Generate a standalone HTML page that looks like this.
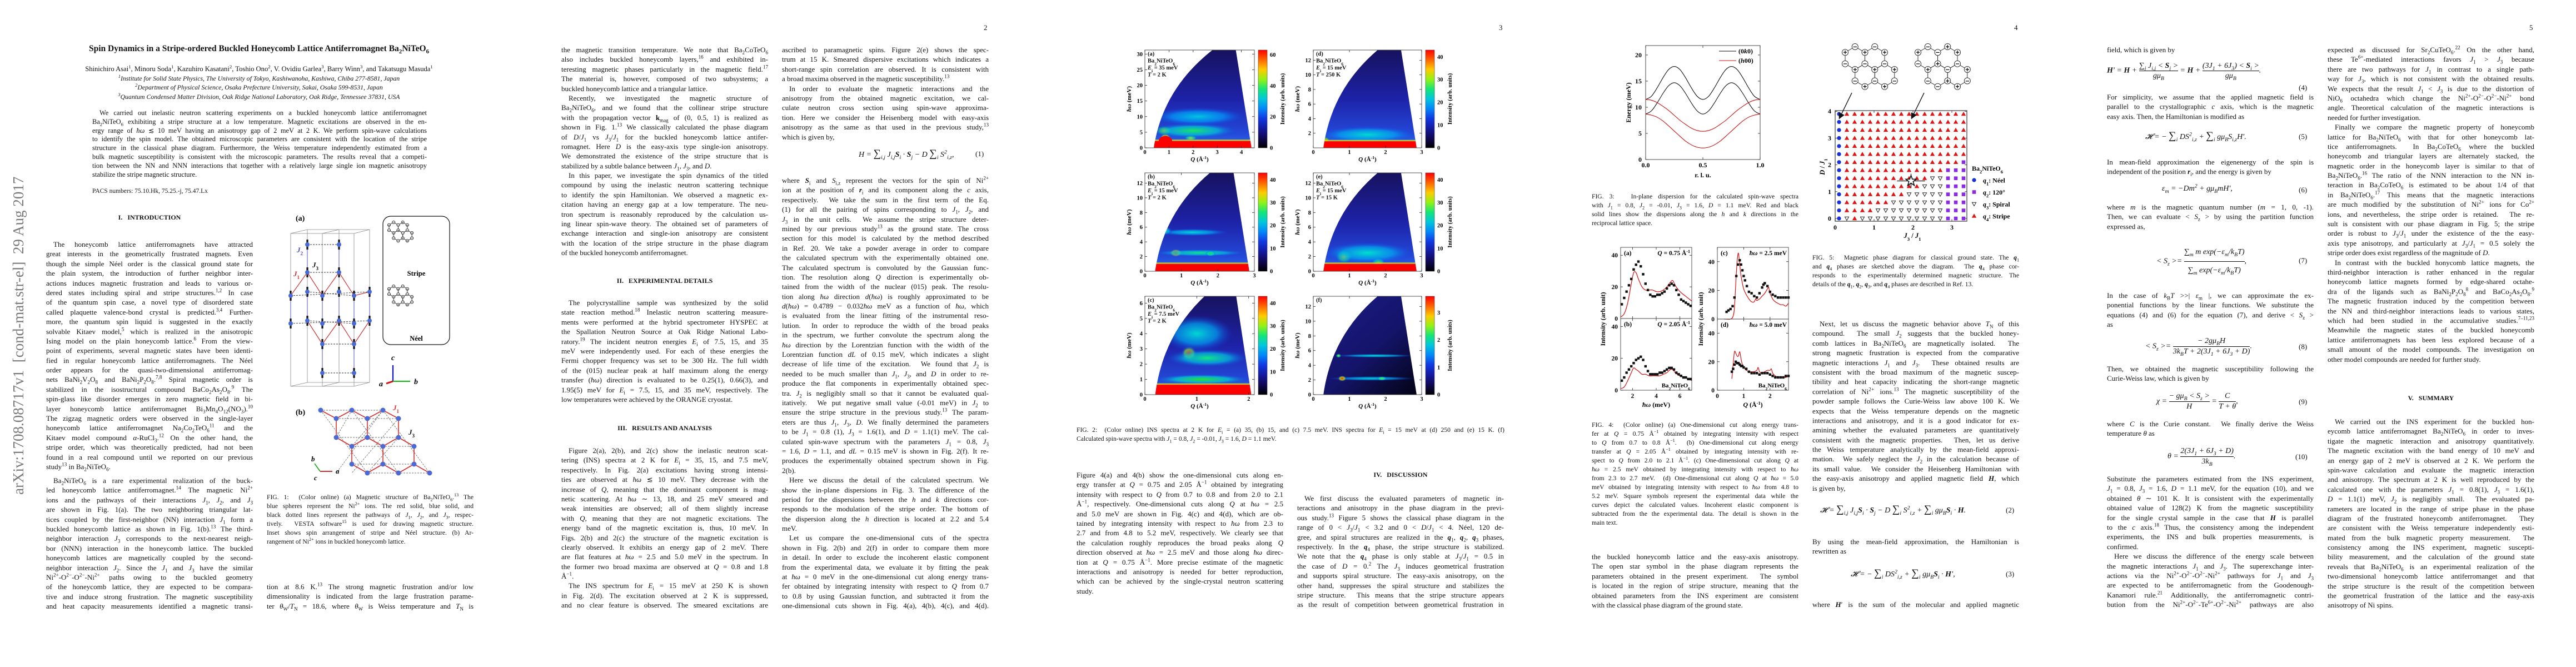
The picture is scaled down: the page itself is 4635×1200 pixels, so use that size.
<!DOCTYPE html>
<html><head><meta charset="utf-8">
<style>
html,body{margin:0;padding:0;background:#fff;}
body{width:4635px;height:1200px;position:relative;overflow:hidden;font-family:"Liberation Serif",serif;color:#111;}
.col{position:absolute;width:372px;font-size:13px;line-height:17.4px;}
.col div{white-space:nowrap;text-align:justify;text-align-last:justify;height:17.4px;overflow:visible;}
.col div.e{text-align-last:left;}
.col div.i{text-indent:13px;}
.cap{position:absolute;width:372px;font-size:11.6px;line-height:16px;}
.cap div{white-space:nowrap;text-align:justify;text-align-last:justify;height:16px;}
.cap div.e{text-align-last:left;}
sub,sup{font-size:70%;line-height:0;}
.h{position:absolute;width:372px;text-align:center;font-weight:bold;font-size:12px;}
.eq{position:absolute;font-size:14px;font-style:italic;white-space:nowrap;}
.eqn{position:absolute;font-size:13px;}
.pn{position:absolute;font-size:13px;}
#figs{position:absolute;left:0;top:0;}
</style></head>
<body>

<!-- ================= PAGE 1 ================= -->
<div style="position:absolute;left:18px;top:890px;transform-origin:0 0;transform:rotate(-90deg);font-size:27px;color:#7a7a7a;white-space:nowrap;width:650px;">arXiv:1708.08717v1&nbsp; [cond-mat.str-el]&nbsp; 29 Aug 2017</div>
<div style="position:absolute;left:60px;width:812px;top:78px;text-align:center;font-weight:bold;font-size:15.5px;line-height:20px;white-space:nowrap;">Spin Dynamics in a Stripe-ordered Buckled Honeycomb Lattice Antiferromagnet Ba<sub>2</sub>NiTeO<sub>6</sub></div>
<div style="position:absolute;left:60px;width:812px;top:116px;text-align:center;font-size:12.6px;line-height:17px;white-space:nowrap;">Shinichiro Asai<sup>1</sup>, Minoru Soda<sup>1</sup>, Kazuhiro Kasatani<sup>2</sup>, Toshio Ono<sup>2</sup>, V. Ovidiu Garlea<sup>3</sup>, Barry Winn<sup>3</sup>, and Takatsugu Masuda<sup>1</sup></div>
<div style="position:absolute;left:60px;width:812px;top:133px;text-align:center;font-size:11.8px;line-height:16.4px;font-style:italic;white-space:nowrap;">
<div><sup>1</sup>Institute for Solid State Physics, The University of Tokyo, Kashiwanoha, Kashiwa, Chiba 277-8581, Japan</div>
<div><sup>2</sup>Department of Physical Science, Osaka Prefecture University, Sakai, Osaka 599-8531, Japan</div>
<div><sup>3</sup>Quantum Condensed Matter Division, Oak Ridge National Laboratory, Oak Ridge, Tennessee 37831, USA</div></div>
<div class="col" style="left:166px;top:196px;width:602px;line-height:15.8px;font-size:12.4px;">
<div class="i" style="height:15.8px">We carried out inelastic neutron scattering experiments on a buckled honeycomb lattice antiferromagnet</div>
<div style="height:15.8px">Ba<sub>2</sub>NiTeO<sub>6</sub> exhibiting a stripe structure at a low temperature. Magnetic excitations are observed in the en-</div>
<div style="height:15.8px">ergy range of <i>ħω</i> ≲ 10 meV having an anisotropy gap of 2 meV at 2 K. We perform spin-wave calculations</div>
<div style="height:15.8px">to identify the spin model. The obtained microscopic parameters are consistent with the location of the stripe</div>
<div style="height:15.8px">structure in the classical phase diagram. Furthermore, the Weiss temperature independently estimated from a</div>
<div style="height:15.8px">bulk magnetic susceptibility is consistent with the microscopic parameters. The results reveal that a competi-</div>
<div style="height:15.8px">tion between the NN and NNN interactions that together with a relatively large single ion magnetic anisotropy</div>
<div class="e" style="height:15.8px">stabilize the stripe magnetic structure.</div></div>
<div style="position:absolute;left:166px;top:338px;font-size:11.5px;">PACS numbers: 75.10.Hk, 75.25.-j, 75.47.Lx</div>
<div class="h" style="left:83px;top:384px;">I.&nbsp;&nbsp; INTRODUCTION</div>
<div class="col" style="left:83px;top:431px;">
<div class="i">The honeycomb lattice antiferromagnets have attracted</div>
<div>great interests in the geometrically frustrated magnets. Even</div>
<div>though the simple Néel order is the classical ground state for</div>
<div>the plain system, the introduction of further neighbor inter-</div>
<div>actions induces magnetic frustration and leads to various or-</div>
<div>dered states including spiral and stripe structures.<sup>1,2</sup> In case</div>
<div>of the quantum spin case, a novel type of disordered state</div>
<div>called plaquette valence-bond crystal is predicted.<sup>3,4</sup> Further-</div>
<div>more, the quantum spin liquid is suggested in the exactly</div>
<div>solvable Kitaev model,<sup>5</sup> which is realized in the anisotropic</div>
<div>Ising model on the plain honeycomb lattice.<sup>6</sup> From the view-</div>
<div>point of experiments, several magnetic states have been identi-</div>
<div>fied in regular honeycomb lattice antiferromagnets. The Néel</div>
<div>order appears for the quasi-two-dimensional antiferromag-</div>
<div>nets BaNi<sub>2</sub>V<sub>2</sub>O<sub>8</sub> and BaNi<sub>2</sub>P<sub>2</sub>O<sub>8</sub>.<sup>7,8</sup> Spiral magnetic order is</div>
<div>stabilized in the isostructural compound BaCo<sub>2</sub>As<sub>2</sub>O<sub>8</sub>.<sup>9</sup> The</div>
<div>spin-glass like disorder emerges in zero magnetic field in bi-</div>
<div>layer honeycomb lattice antiferromagnet Bi<sub>3</sub>Mn<sub>4</sub>O<sub>12</sub>(NO<sub>3</sub>).<sup>10</sup></div>
<div>The zigzag magnetic orders were observed in the single-layer</div>
<div>honeycomb lattice antiferromagnet Na<sub>2</sub>Co<sub>2</sub>TeO<sub>6</sub><sup>11</sup> and the</div>
<div>Kitaev model compound <i>α</i>-RuCl<sub>3</sub>.<sup>12</sup> On the other hand, the</div>
<div>stripe order, which was theoretically predicted, had not been</div>
<div>found in a real compound until we reported on our previous</div>
<div class="e">study<sup>13</sup> in Ba<sub>2</sub>NiTeO<sub>6</sub>.</div></div>
<div class="col" style="left:83px;top:856px;">
<div class="i">Ba<sub>2</sub>NiTeO<sub>6</sub> is a rare experimental realization of the buck-</div>
<div>led honeycomb lattice antiferromagnet.<sup>14</sup> The magnetic Ni<sup>2+</sup></div>
<div>ions and the pathways of their interactions <i>J</i><sub>1</sub>, <i>J</i><sub>2</sub>, and <i>J</i><sub>3</sub></div>
<div>are shown in Fig. 1(a). The two neighboring triangular lat-</div>
<div>tices coupled by the first-neighbor (NN) interaction <i>J</i><sub>1</sub> form a</div>
<div>buckled honeycomb lattice as shown in Fig. 1(b).<sup>13</sup> The third-</div>
<div>neighbor interaction <i>J</i><sub>3</sub> corresponds to the next-nearest neigh-</div>
<div>bor (NNN) interaction in the honeycomb lattice. The buckled</div>
<div>honeycomb lattices are magnetically coupled by the second-</div>
<div>neighbor interaction <i>J</i><sub>2</sub>. Since the <i>J</i><sub>1</sub> and <i>J</i><sub>3</sub> have the similar</div>
<div>Ni<sup>2+</sup>-O<sup>2−</sup>-O<sup>2−</sup>-Ni<sup>2+</sup> paths owing to the buckled geometry</div>
<div>of the honeycomb lattice, they are expected to be compara-</div>
<div>tive and induce strong frustration. The magnetic susceptibility</div>
<div>and heat capacity measurements identified a magnetic transi-</div></div>
<div class="cap" style="left:480px;top:887px;">
<div>FIG. 1: &nbsp;(Color online) (a) Magnetic structure of Ba<sub>2</sub>NiTeO<sub>6</sub>.<sup>13</sup> The</div>
<div>blue spheres represent the Ni<sup>2+</sup> ions. The red solid, blue solid, and</div>
<div>black dotted lines represent the pathways of <i>J</i><sub>1</sub>, <i>J</i><sub>2</sub>, and <i>J</i><sub>3</sub>, respec-</div>
<div>tively. &nbsp;VESTA software<sup>15</sup> is used for drawing magnetic structure.</div>
<div>Inset shows spin arrangement of stripe and Néel structure. (b) Ar-</div>
<div class="e">rangement of Ni<sup>2+</sup> ions in buckled honeycomb lattice.</div></div>
<div class="col" style="left:480px;top:1047px;">
<div>tion at 8.6 K.<sup>13</sup> The strong magnetic frustration and/or low</div>
<div>dimensionality is indicated from the large frustration parame-</div>
<div>ter <i>θ</i><sub>W</sub>/<i>T</i><sub>N</sub> = 18.6, where <i>θ</i><sub>W</sub> is Weiss temperature and <i>T</i><sub>N</sub> is</div></div>

<!-- ================= PAGE 2 ================= -->
<div class="pn" style="left:1770px;top:42px;">2</div>
<div class="col" style="left:1010px;top:81px;">
<div>the magnetic transition temperature. We note that Ba<sub>2</sub>CoTeO<sub>6</sub></div>
<div>also includes buckled honeycomb layers,<sup>16</sup> and exhibited in-</div>
<div>teresting magnetic phases particularly in the magnetic field.<sup>17</sup></div>
<div>The material is, however, composed of two subsystems; a</div>
<div class="e">buckled honeycomb lattice and a triangular lattice.</div>
<div class="i">Recently, we investigated the magnetic structure of</div>
<div>Ba<sub>2</sub>NiTeO<sub>6</sub>, and we found that the collinear stripe structure</div>
<div>with the propagation vector <b>k</b><sub>mag</sub> of (0, 0.5, 1) is realized as</div>
<div>shown in Fig. 1.<sup>13</sup> We classically calculated the phase diagram</div>
<div>of <i>D</i>/<i>J</i><sub>1</sub> vs <i>J</i><sub>3</sub>/<i>J</i><sub>1</sub> for the buckled honeycomb lattice antifer-</div>
<div>romagnet. Here <i>D</i> is the easy-axis type single-ion anisotropy.</div>
<div>We demonstrated the existence of the stripe structure that is</div>
<div class="e">stabilized by a subtle balance between <i>J</i><sub>1</sub>, <i>J</i><sub>3</sub>, and <i>D</i>.</div>
<div class="i">In this paper, we investigate the spin dynamics of the titled</div>
<div>compound by using the inelastic neutron scattering technique</div>
<div>to identify the spin Hamiltonian. We observed a magnetic ex-</div>
<div>citation having an energy gap at a low temperature. The neu-</div>
<div>tron spectrum is reasonably reproduced by the calculation us-</div>
<div>ing linear spin-wave theory. The obtained set of parameters of</div>
<div>exchange interaction and single-ion anisotropy are consistent</div>
<div>with the location of the stripe structure in the phase diagram</div>
<div class="e">of the buckled honeycomb antiferromagnet.</div></div>
<div class="h" style="left:1010px;top:498px;">II.&nbsp;&nbsp; EXPERIMENTAL DETAILS</div>
<div class="col" style="left:1010px;top:536px;">
<div class="i">The polycrystalline sample was synthesized by the solid</div>
<div>state reaction method.<sup>18</sup> Inelastic neutron scattering measure-</div>
<div>ments were performed at the hybrid spectrometer HYSPEC at</div>
<div>the Spallation Neutron Source at Oak Ridge National Labo-</div>
<div>ratory.<sup>19</sup> The incident neutron energies <i>E</i><sub>i</sub> of 7.5, 15, and 35</div>
<div>meV were independently used. For each of these energies the</div>
<div>Fermi chopper frequency was set to be 300 Hz. The full width</div>
<div>of the (015) nuclear peak at half maximum along the energy</div>
<div>transfer (<i>ħω</i>) direction is evaluated to be 0.25(1), 0.66(3), and</div>
<div>1.95(5) meV for <i>E</i><sub>i</sub> = 7.5, 15, and 35 meV, respectively. The</div>
<div class="e">low temperatures were achieved by the ORANGE cryostat.</div></div>
<div class="h" style="left:1010px;top:763px;">III.&nbsp;&nbsp; RESULTS AND ANALYSIS</div>
<div class="col" style="left:1010px;top:802px;">
<div class="i">Figure 2(a), 2(b), and 2(c) show the inelastic neutron scat-</div>
<div>tering (INS) spectra at 2 K for <i>E</i><sub>i</sub> = 35, 15, and 7.5 meV,</div>
<div>respectively. In Fig. 2(a) excitations having strong intensi-</div>
<div>ties are observed at <i>ħω</i> ≲ 10 meV. They decrease with the</div>
<div>increase of <i>Q</i>, meaning that the dominant component is mag-</div>
<div>netic scattering. At <i>ħω</i> ∼ 13, 18, and 25 meV smeared and</div>
<div>weak intensities are observed; all of them slightly increase</div>
<div>with <i>Q</i>, meaning that they are not magnetic excitations. The</div>
<div>energy band of the magnetic excitation is, thus, 10 meV. In</div>
<div>Figs. 2(b) and 2(c) the structure of the magnetic excitation is</div>
<div>clearly observed. It exhibits an energy gap of 2 meV. There</div>
<div>are flat features at <i>ħω</i> = 2.5 and 5.0 meV in the spectrum. In</div>
<div>the former two broad maxima are observed at <i>Q</i> = 0.8 and 1.8</div>
<div class="e">Å<sup>−1</sup>.</div>
<div class="i">The INS spectrum for <i>E</i><sub>i</sub> = 15 meV at 250 K is shown</div>
<div>in Fig. 2(d). The excitation observed at 2 K is suppressed,</div>
<div>and no clear feature is observed. The smeared excitations are</div></div>
<div class="col" style="left:1407px;top:81px;">
<div>ascribed to paramagnetic spins. Figure 2(e) shows the spec-</div>
<div>trum at 15 K. Smeared dispersive excitations which indicates a</div>
<div>short-range spin correlation are observed. It is consistent with</div>
<div class="e">a broad maxima observed in the magnetic susceptibility.<sup>13</sup></div>
<div class="i">In order to evaluate the magnetic interactions and the</div>
<div>anisotropy from the obtained magnetic excitation, we cal-</div>
<div>culate neutron cross section using spin-wave approxima-</div>
<div>tion. Here we consider the Heisenberg model with easy-axis</div>
<div>anisotropy as the same as that used in the previous study,<sup>13</sup></div>
<div class="e">which is given by,</div></div>
<div class="eq" style="left:1545px;top:266px;">H = <span style="font-style:normal;font-size:19px">∑</span><sub>i,j</sub> J<sub>i,j</sub><b>S</b><sub>i</sub> · <b>S</b><sub>j</sub> − D <span style="font-style:normal;font-size:19px">∑</span><sub>i</sub> S<sup>2</sup><sub>i,z</sub>,</div>
<div class="eqn" style="left:1755px;top:269px;">(1)</div>
<div class="col" style="left:1407px;top:316px;">
<div>where <b><i>S</i></b><sub>i</sub> and <i>S</i><sub>i,z</sub> represent the vectors for the spin of Ni<sup>2+</sup></div>
<div>ion at the position of <b><i>r</i></b><sub>i</sub> and its component along the <i>c</i> axis,</div>
<div>respectively. &nbsp;We take the sum in the first term of the Eq.</div>
<div>(1) for all the pairing of spins corresponding to <i>J</i><sub>1</sub>, <i>J</i><sub>2</sub>, and</div>
<div><i>J</i><sub>3</sub> in the unit cells. &nbsp;We assume the stripe structure deter-</div>
<div>mined by our previous study<sup>13</sup> as the ground state. The cross</div>
<div>section for this model is calculated by the method described</div>
<div>in Ref. 20. We take a powder average in order to compare</div>
<div>the calculated spectrum with the experimentally obtained one.</div>
<div>The calculated spectrum is convoluted by the Gaussian func-</div>
<div>tion. The resolution along <i>Q</i> direction is experimentally ob-</div>
<div>tained from the width of the nuclear (015) peak. The resolu-</div>
<div>tion along <i>ħω</i> direction <i>d</i>(<i>ħω</i>) is roughly approximated to be</div>
<div><i>d</i>(<i>ħω</i>) = 0.4789 − 0.032<i>ħω</i> meV as a function of <i>ħω</i>, which</div>
<div>is evaluated from the linear fitting of the instrumental reso-</div>
<div>lution. &nbsp;In order to reproduce the width of the broad peaks</div>
<div>in the spectrum, we further convolute the spectrum along the</div>
<div><i>ħω</i> direction by the Lorentzian function with the width of the</div>
<div>Lorentzian function <i>dL</i> of 0.15 meV, which indicates a slight</div>
<div>decrease of life time of the excitation. &nbsp;We found that <i>J</i><sub>2</sub> is</div>
<div>needed to be much smaller than <i>J</i><sub>1</sub>, <i>J</i><sub>3</sub>, and <i>D</i> in order to re-</div>
<div>produce the flat components in experimentally obtained spec-</div>
<div>tra. <i>J</i><sub>2</sub> is negligibly small so that it cannot be evaluated qual-</div>
<div>itatively. &nbsp;We put negative small value (-0.01 meV) in <i>J</i><sub>2</sub> to</div>
<div>ensure the stripe structure in the previous study.<sup>13</sup> The param-</div>
<div>eters are thus <i>J</i><sub>1</sub>, <i>J</i><sub>3</sub>, <i>D</i>. We finally determined the parameters</div>
<div>to be <i>J</i><sub>1</sub> = 0.8 (1), <i>J</i><sub>3</sub> = 1.6(1), and <i>D</i> = 1.1(1) meV. The cal-</div>
<div>culated spin-wave spectrum with the parameters <i>J</i><sub>1</sub> = 0.8, <i>J</i><sub>3</sub></div>
<div>= 1.6, <i>D</i> = 1.1, and <i>dL</i> = 0.15 meV is shown in Fig. 2(f). It re-</div>
<div>produces the experimentally obtained spectrum shown in Fig.</div>
<div class="e">2(b).</div>
<div class="i">Here we discuss the detail of the calculated spectrum. We</div>
<div>show the in-plane dispersions in Fig. 3. The difference of the</div>
<div>period for the dispersions between the <i>h</i> and <i>k</i> directions cor-</div>
<div>responds to the modulation of the stripe order. The bottom of</div>
<div>the dispersion along the <i>h</i> direction is located at 2.2 and 5.4</div>
<div class="e">meV.</div>
<div class="i">Let us compare the one-dimensional cuts of the spectra</div>
<div>shown in Fig. 2(b) and 2(f) in order to compare them more</div>
<div>in detail. In order to exclude the incoherent elastic component</div>
<div>from the experimental data, we evaluate it by fitting the peak</div>
<div>at <i>ħω</i> = 0 meV in the one-dimensional cut along energy trans-</div>
<div>fer obtained by integrating intensity with respect to <i>Q</i> from 0.7</div>
<div>to 0.8 by using Gaussian function, and subtracted it from the</div>
<div>one-dimensional cuts shown in Fig. 4(a), 4(b), 4(c), and 4(d).</div></div>

<!-- ================= PAGE 3 ================= -->
<div class="pn" style="left:2697px;top:42px;">3</div>
<div class="cap" style="left:1937px;top:766px;width:770px;">
<div>FIG. 2: &nbsp;(Color online) INS spectra at 2 K for <i>E</i><sub>i</sub> = (a) 35, (b) 15, and (c) 7.5 meV. INS spectra for <i>E</i><sub>i</sub> = 15 meV at (d) 250 and (e) 15 K. (f)</div>
<div class="e">Calculated spin-wave spectra with <i>J</i><sub>1</sub> = 0.8, <i>J</i><sub>2</sub> = -0.01, <i>J</i><sub>3</sub> = 1.6, <i>D</i> = 1.1 meV.</div></div>
<div class="col" style="left:1937px;top:846px;">
<div>Figure 4(a) and 4(b) show the one-dimensional cuts along en-</div>
<div>ergy transfer at <i>Q</i> = 0.75 and 2.05 Å<sup>−1</sup> obtained by integrating</div>
<div>intensity with respect to <i>Q</i> from 0.7 to 0.8 and from 2.0 to 2.1</div>
<div>Å<sup>−1</sup>, respectively. One-dimensional cuts along <i>Q</i> at <i>ħω</i> = 2.5</div>
<div>and 5.0 meV are shown in Fig. 4(c) and 4(d), which are ob-</div>
<div>tained by integrating intensity with respect to <i>ħω</i> from 2.3 to</div>
<div>2.7 and from 4.8 to 5.2 meV, respectively. We clearly see that</div>
<div>the calculation roughly reproduces the broad peaks along <i>Q</i></div>
<div>direction observed at <i>ħω</i> = 2.5 meV and those along <i>ħω</i> direc-</div>
<div>tion at <i>Q</i> = 0.75 Å<sup>−1</sup>. More precise estimate of the magnetic</div>
<div>interactions and anisotropy is needed for better reproduction,</div>
<div>which can be achieved by the single-crystal neutron scattering</div>
<div class="e">study.</div></div>
<div class="h" style="left:2334px;top:847px;">IV.&nbsp;&nbsp; DISCUSSION</div>
<div class="col" style="left:2334px;top:888px;">
<div class="i">We first discuss the evaluated parameters of magnetic in-</div>
<div>teractions and anisotropy in the phase diagram in the previ-</div>
<div>ous study.<sup>13</sup> Figure 5 shows the classical phase diagram in the</div>
<div>range of 0 &lt; <i>J</i><sub>3</sub>/<i>J</i><sub>1</sub> &lt; 3.2 and 0 &lt; <i>D</i>/<i>J</i><sub>1</sub> &lt; 4. Néel, 120 de-</div>
<div>gree, and spiral structures are realized in the <b><i>q</i></b><sub>1</sub>, <b><i>q</i></b><sub>2</sub>, <b><i>q</i></b><sub>3</sub> phases,</div>
<div>respectively. In the <b><i>q</i></b><sub>4</sub> phase, the stripe structure is stabilized.</div>
<div>We note that the <b><i>q</i></b><sub>4</sub> phase is only stable at <i>J</i><sub>3</sub>/<i>J</i><sub>1</sub> = 0.5 in</div>
<div>the case of <i>D</i> = 0.<sup>2</sup> The <i>J</i><sub>3</sub> induces geometrical frustration</div>
<div>and supports spiral structure. The easy-axis anisotropy, on the</div>
<div>other hand, suppresses the spiral structure and stabilizes the</div>
<div>stripe structure. &nbsp;This means that the stripe structure appears</div>
<div>as the result of competition between geometrical frustration in</div></div>

<!-- ================= PAGE 4 ================= -->
<div class="pn" style="left:3624px;top:42px;">4</div>
<div class="cap" style="left:2864px;top:346px;">
<div>FIG. 3: &nbsp;&nbsp;In-plane dispersion for the calculated spin-wave spectra</div>
<div>with <i>J</i><sub>1</sub> = 0.8, <i>J</i><sub>2</sub> = -0.01, <i>J</i><sub>3</sub> = 1.6, <i>D</i> = 1.1 meV. Red and black</div>
<div>solid lines show the dispersions along the <i>h</i> and <i>k</i> directions in the</div>
<div class="e">reciprocal lattice space.</div></div>
<div class="cap" style="left:2864px;top:757px;">
<div>FIG. 4: &nbsp;(Color online) (a) One-dimensional cut along energy trans-</div>
<div>fer at <i>Q</i> = 0.75 Å<sup>−1</sup> obtained by integrating intensity with respect</div>
<div>to <i>Q</i> from 0.7 to 0.8 Å<sup>−1</sup>. &nbsp;(b) One-dimensional cut along energy</div>
<div>transfer at <i>Q</i> = 2.05 Å<sup>−1</sup> obtained by integrating intensity with re-</div>
<div>spect to <i>Q</i> from 2.0 to 2.1 Å<sup>−1</sup>. (c) One-dimensional cut along <i>Q</i> at</div>
<div><i>ħω</i> = 2.5 meV obtained by integrating intensity with respect to <i>ħω</i></div>
<div>from 2.3 to 2.7 meV. &nbsp;(d) One-dimensional cut along <i>Q</i> at <i>ħω</i> = 5.0</div>
<div>meV obtained by integrating intensity with respect to <i>ħω</i> from 4.8 to</div>
<div>5.2 meV. Square symbols represent the experimental data while the</div>
<div>curves depict the calculated values. Incoherent elastic component is</div>
<div>subtracted from the the experimental data. The detail is shown in the</div>
<div class="e">main text.</div></div>
<div class="col" style="left:2864px;top:993px;">
<div>the buckled honeycomb lattice and the easy-axis anisotropy.</div>
<div>The open star symbol in the phase diagram represents the</div>
<div>parameters obtained in the present experiment. &nbsp;The symbol</div>
<div>is located in the region of stripe structure, meaning that the</div>
<div>obtained parameters from the INS experiment are consistent</div>
<div class="e">with the classical phase diagram of the ground state.</div></div>
<div class="cap" style="left:3261px;top:456px;">
<div>FIG. 5: &nbsp;Magnetic phase diagram for classical ground state. The <b><i>q</i></b><sub>1</sub></div>
<div>and <b><i>q</i></b><sub>4</sub> phases are sketched above the diagram. &nbsp;The <b><i>q</i></b><sub>4</sub> phase cor-</div>
<div>responds to the experimentally determined magnetic structure. The</div>
<div class="e">details of the <b><i>q</i></b><sub>1</sub>, <b><i>q</i></b><sub>2</sub>, <b><i>q</i></b><sub>3</sub>, and <b><i>q</i></b><sub>4</sub> phases are described in Ref. 13.</div></div>
<div class="col" style="left:3261px;top:574px;">
<div class="i">Next, let us discuss the magnetic behavior above <i>T</i><sub>N</sub> of this</div>
<div>compound. &nbsp;The small <i>J</i><sub>2</sub> suggests that the buckled honey-</div>
<div>comb lattices in Ba<sub>2</sub>NiTeO<sub>6</sub> are magnetically isolated. &nbsp;The</div>
<div>strong magnetic frustration is expected from the comparative</div>
<div>magnetic interactions <i>J</i><sub>1</sub> and <i>J</i><sub>3</sub>. &nbsp;These obtained results are</div>
<div>consistent with the broad maximum of the magnetic suscep-</div>
<div>tibility and heat capacity indicating the short-range magnetic</div>
<div>correlation of Ni<sup>2+</sup> ions.<sup>13</sup> The magnetic susceptibility of the</div>
<div>powder sample follows the Curie-Weiss law above 100 K. We</div>
<div>expects that the Weiss temperature depends on the magnetic</div>
<div>interactions and anisotropy, and it is a good indicator for ex-</div>
<div>amining whether the evaluated parameters are quantitatively</div>
<div>consistent with the magnetic properties. &nbsp;Then, let us derive</div>
<div>the Weiss temperature analytically by the mean-field approxi-</div>
<div>mation. &nbsp;We safely neglect the <i>J</i><sub>2</sub> in the calculation because of</div>
<div>its small value. &nbsp;We consider the Heisenberg Hamiltonian with</div>
<div>the easy-axis anisotropy and applied magnetic field <b><i>H</i></b>, which</div>
<div class="e">is given by,</div></div>
<div class="eq" style="left:3275px;top:906px;">𝓗 = <span style="font-style:normal;font-size:19px">∑</span><sub>i,j</sub> J<sub>i,j</sub><b>S</b><sub>i</sub> · <b>S</b><sub>j</sub> − D <span style="font-style:normal;font-size:19px">∑</span><sub>i</sub> S<sup>2</sup><sub>i,z</sub> + <span style="font-style:normal;font-size:19px">∑</span><sub>i</sub> gμ<sub>B</sub><b>S</b><sub>i</sub> · <b>H</b>.</div>
<div class="eqn" style="left:3609px;top:910px;">(2)</div>
<div class="col" style="left:3261px;top:966px;">
<div>By using the mean-field approximation, the Hamiltonian is</div>
<div class="e">rewritten as</div></div>
<div class="eq" style="left:3330px;top:1021px;">𝓗 = − <span style="font-style:normal;font-size:19px">∑</span><sub>i</sub> DS<sup>2</sup><sub>i,z</sub> + <span style="font-style:normal;font-size:19px">∑</span><sub>i</sub> gμ<sub>B</sub><b>S</b><sub>i</sub> · <b>H</b>′,</div>
<div class="eqn" style="left:3609px;top:1025px;">(3)</div>
<div class="col" style="left:3261px;top:1079px;">
<div>where <b><i>H</i></b>′ is the sum of the molecular and applied magnetic</div></div>

<!-- ================= PAGE 5 ================= -->
<div class="pn" style="left:4551px;top:42px;">5</div>
<div class="col" style="left:3791px;top:81px;"><div class="e">field, which is given by</div></div>
<div class="eq" style="left:3791px;top:110px;"><b>H</b>′ = <b>H</b> + <span style="display:inline-block;text-align:center;vertical-align:middle;line-height:17px"><span style="display:block;border-bottom:1px solid #111">∑<sub>j</sub> J<sub>i,j</sub> &lt; <b>S</b><sub>j</sub> &gt;</span><span style="display:block">gμ<sub>B</sub></span></span> = <b>H</b> + <span style="display:inline-block;text-align:center;vertical-align:middle;line-height:17px"><span style="display:block;border-bottom:1px solid #111">(3J<sub>1</sub> + 6J<sub>3</sub>) &lt; <b>S</b><sub>i</sub> &gt;</span><span style="display:block">gμ<sub>B</sub></span></span>.</div>
<div class="eqn" style="left:4136px;top:150px;">(4)</div>
<div class="col" style="left:3791px;top:166px;">
<div>For simplicity, we assume that the applied magnetic field is</div>
<div>parallel to the crystallographic <i>c</i> axis, which is the magnetic</div>
<div class="e">easy axis. Then, the Hamiltonian is modified as</div></div>
<div class="eq" style="left:3860px;top:234px;">𝓗 = − <span style="font-style:normal;font-size:19px">∑</span><sub>i</sub> DS<sup>2</sup><sub>i,z</sub> + <span style="font-style:normal;font-size:19px">∑</span><sub>i</sub> gμ<sub>B</sub>S<sub>i,z</sub>H′.</div>
<div class="eqn" style="left:4136px;top:238px;">(5)</div>
<div class="col" style="left:3791px;top:283px;">
<div>In mean-field approximation the eigenenergy of the spin is</div>
<div class="e">independent of the position <b><i>r</i></b><sub>i</sub>, and the energy is given by</div></div>
<div class="eq" style="left:3890px;top:332px;">ε<sub>m</sub> = −Dm<sup>2</sup> + gμ<sub>B</sub>mH′,</div>
<div class="eqn" style="left:4136px;top:334px;">(6)</div>
<div class="col" style="left:3791px;top:364px;">
<div>where <i>m</i> is the magnetic quantum number (<i>m</i> = 1, 0, -1).</div>
<div>Then, we can evaluate &lt; <i>S</i><sub>z</sub> &gt; by using the partition function</div>
<div class="e">expressed as,</div></div>
<div class="eq" style="left:3880px;top:438px;">&lt; S<sub>z</sub> &gt;= <span style="display:inline-block;text-align:center;vertical-align:middle;line-height:32px"><span style="display:block;border-bottom:1px solid #111">∑<sub>m</sub> m exp(−ε<sub>m</sub>/k<sub>B</sub>T)</span><span style="display:block">∑<sub>m</sub> exp(−ε<sub>m</sub>/k<sub>B</sub>T)</span></span>,</div>
<div class="eqn" style="left:4136px;top:461px;">(7)</div>
<div class="col" style="left:3791px;top:523px;">
<div>In the case of <i>k</i><sub>B</sub><i>T</i> &gt;&gt;| <i>ε</i><sub>m</sub> |, we can approximate the ex-</div>
<div>ponential functions by the linear functions. We substitute the</div>
<div>equations (4) and (6) for the equation (7), and derive &lt; <i>S</i><sub>z</sub> &gt;</div>
<div class="e">as</div></div>
<div class="eq" style="left:3860px;top:605px;">&lt; S<sub>z</sub> &gt;= <span style="display:inline-block;text-align:center;vertical-align:middle;line-height:18px"><span style="display:block;border-bottom:1px solid #111">− 2gμ<sub>B</sub>H</span><span style="display:block">3k<sub>B</sub>T + 2(3J<sub>1</sub> + 6J<sub>3</sub> + D)</span></span>.</div>
<div class="eqn" style="left:4136px;top:616px;">(8)</div>
<div class="col" style="left:3791px;top:655px;">
<div>Then, we obtained the magnetic susceptibility following the</div>
<div class="e">Curie-Weiss law, which is given by</div></div>
<div class="eq" style="left:3880px;top:704px;">χ = <span style="display:inline-block;text-align:center;vertical-align:middle;line-height:18px"><span style="display:block;border-bottom:1px solid #111">− gμ<sub>B</sub> &lt; S<sub>z</sub> &gt;</span><span style="display:block">H</span></span> = <span style="display:inline-block;text-align:center;vertical-align:middle;line-height:18px"><span style="display:block;border-bottom:1px solid #111">C</span><span style="display:block">T + θ</span></span>,</div>
<div class="eqn" style="left:4136px;top:715px;">(9)</div>
<div class="col" style="left:3791px;top:754px;">
<div>where <i>C</i> is the Curie constant. &nbsp;We finally derive the Weiss</div>
<div class="e">temperature <i>θ</i> as</div></div>
<div class="eq" style="left:3900px;top:803px;">θ = <span style="display:inline-block;text-align:center;vertical-align:middle;line-height:18px"><span style="display:block;border-bottom:1px solid #111">2(3J<sub>1</sub> + 6J<sub>3</sub> + D)</span><span style="display:block">3k<sub>B</sub></span></span>.</div>
<div class="eqn" style="left:4130px;top:814px;">(10)</div>
<div class="col" style="left:3791px;top:853px;">
<div>Substitute the parameters estimated from the INS experiment,</div>
<div><i>J</i><sub>1</sub> = 0.8, <i>J</i><sub>3</sub> = 1.6, <i>D</i> = 1.1 meV, for the equation (10), and we</div>
<div>obtained <i>θ</i> ∼ 101 K. It is consistent with the experimentally</div>
<div>obtained value of 128(2) K from the magnetic susceptibility</div>
<div>for the single crystal sample in the case that <b><i>H</i></b> is parallel</div>
<div>to the <i>c</i> axis.<sup>18</sup> Thus, the consistency among the independent</div>
<div>experiments, the INS and bulk properties measurements, is</div>
<div class="e">confirmed.</div>
<div class="i">Here we discuss the difference of the energy scale between</div>
<div>the magnetic interactions <i>J</i><sub>1</sub> and <i>J</i><sub>3</sub>. The superexchange inter-</div>
<div>actions via the Ni<sup>2+</sup>-O<sup>2−</sup>-O<sup>2−</sup>-Ni<sup>2+</sup> pathways for <i>J</i><sub>1</sub> and <i>J</i><sub>3</sub></div>
<div>are expected to be antiferromagnetic from the Goodenough-</div>
<div>Kanamori rule.<sup>21</sup> Additionally, the antiferromagnetic contri-</div>
<div>bution from the Ni<sup>2+</sup>-O<sup>2−</sup>-Te<sup>6+</sup>-O<sup>2−</sup>-Ni<sup>2+</sup> pathways are also</div></div>
<div class="col" style="left:4188px;top:81px;">
<div>expected as discussed for Sr<sub>2</sub>CuTeO<sub>6</sub>.<sup>22</sup> On the other hand,</div>
<div>these Te<sup>6+</sup>-mediated interactions favors <i>J</i><sub>1</sub> &gt; <i>J</i><sub>3</sub> because</div>
<div>there are two pathways for <i>J</i><sub>1</sub> in contrast to a single path-</div>
<div>way for <i>J</i><sub>3</sub>, which is not consistent with the obtained results.</div>
<div>We expects that the result <i>J</i><sub>1</sub> &lt; <i>J</i><sub>3</sub> is due to the distortion of</div>
<div>NiO<sub>6</sub> octahedra which change the Ni<sup>2+</sup>-O<sup>2−</sup>-O<sup>2−</sup>-Ni<sup>2+</sup> bond</div>
<div>angle. Theoretical calculation of the magnetic interactions is</div>
<div class="e">needed for further investigation.</div>
<div class="i">Finally we compare the magnetic property of honeycomb</div>
<div>lattice for Ba<sub>2</sub>NiTeO<sub>6</sub> with that for other honeycomb lat-</div>
<div>tice antiferromagnets. &nbsp;In Ba<sub>2</sub>CoTeO<sub>6</sub> where the buckled</div>
<div>honeycomb and triangular layers are alternately stacked, the</div>
<div>magnetic order in the honeycomb layer is similar to that of</div>
<div>Ba<sub>2</sub>NiTeO<sub>6</sub>.<sup>16</sup> The ratio of the NNN interaction to the NN in-</div>
<div>teraction in Ba<sub>2</sub>CoTeO<sub>6</sub> is estimated to be about 1/4 of that</div>
<div>in Ba<sub>2</sub>NiTeO<sub>6</sub>.<sup>17</sup> This means that the magnetic interactions</div>
<div>are much modified by the substitution of Ni<sup>2+</sup> ions for Co<sup>2+</sup></div>
<div>ions, and nevertheless, the stripe order is retained. &nbsp;The re-</div>
<div>sult is consistent with our phase diagram in Fig. 5; the stripe</div>
<div>order is robust to <i>J</i><sub>3</sub>/<i>J</i><sub>1</sub> under the existence of the the easy-</div>
<div>axis type anisotropy, and particularly at <i>J</i><sub>3</sub>/<i>J</i><sub>1</sub> = 0.5 solely the</div>
<div class="e">stripe order does exist regardless of the magnitude of <i>D</i>.</div>
<div class="i">In contrast with the buckled honycomb lattice magnets, the</div>
<div>third-neighbor interaction is rather enhanced in the regular</div>
<div>honeycomb lattice magnets formed by edge-shared octahe-</div>
<div>dra of the ligands such as BaNi<sub>2</sub>P<sub>2</sub>O<sub>8</sub><sup>8</sup> and BaCo<sub>2</sub>As<sub>2</sub>O<sub>8</sub>.<sup>9</sup></div>
<div>The magnetic frustration induced by the competition between</div>
<div>the NN and third-neighbor interactions leads to various states,</div>
<div>which had been studied in the accumulative studies.<sup>7–11,23</sup></div>
<div>Meanwhile the magnetic states of the buckled honeycomb</div>
<div>lattice antiferromagnets has been less explored because of a</div>
<div>small amount of the model compounds. The investigation on</div>
<div class="e">other model compounds are needed for further study.</div></div>
<div class="h" style="left:4188px;top:709px;">V.&nbsp;&nbsp; SUMMARY</div>
<div class="col" style="left:4188px;top:750px;">
<div class="i">We carried out the INS experiment for the buckled hon-</div>
<div>eycomb lattice antiferromagnet Ba<sub>2</sub>NiTeO<sub>6</sub> in order to inves-</div>
<div>tigate the magnetic interaction and anisotropy quantitatively.</div>
<div>The magnetic excitation with the band energy of 10 meV and</div>
<div>an energy gap of 2 meV is observed at 2 K. We perform the</div>
<div>spin-wave calculation and evaluate the magnetic interaction</div>
<div>and anisotropy. The spectrum at 2 K is well reproduced by the</div>
<div>calculated one with the parameters <i>J</i><sub>1</sub> = 0.8(1), <i>J</i><sub>3</sub> = 1.6(1),</div>
<div><i>D</i> = 1.1(1) meV, <i>J</i><sub>2</sub> is negligibly small. &nbsp;The evaluated pa-</div>
<div>rameters are located in the range of stripe phase in the phase</div>
<div>diagram of the frustrated honeycomb antiferromagnet. &nbsp;They</div>
<div>are consistent with the Weiss temperature independently esti-</div>
<div>mated from the bulk magnetic property measurement. &nbsp;The</div>
<div>consistency among the INS experiment, magnetic suscepti-</div>
<div>bility measurement, and the calculation of the ground state</div>
<div>reveals that Ba<sub>2</sub>NiTeO<sub>6</sub> is an experimental realization of the</div>
<div>two-dimensional honeycomb lattice antiferromanget and that</div>
<div>the stripe structure is the result of the competition between</div>
<div>the geometrical frustration of the lattice and the easy-axis</div>
<div class="e">anisotropy of Ni spins.</div></div>

<svg id="figs" width="4635" height="1200" xmlns="http://www.w3.org/2000/svg">
<defs id="defs"></defs>
</svg>

<script>
// ---------------- Fig 3 data ----------------
const fig3Q=[0,0.05,0.1,0.15,0.2,0.25,0.3,0.35,0.4,0.45,0.5,0.55,0.6,0.65,0.7,0.75,0.8,0.85,0.9,0.95,1.0];
const fig3K1=[11.5,12.1,13.7,15.6,17.2,17.8,17.2,15.6,13.7,12.1,11.5,12.1,13.7,15.6,17.2,17.8,17.2,15.6,13.7,12.1,11.5];
const fig3K2=[8.7,9.3,10.8,12.6,14.1,14.7,14.1,12.6,10.8,9.3,8.7,9.3,10.8,12.6,14.1,14.7,14.1,12.6,10.8,9.3,8.7];
const fig3H1=[11.5,11.35,10.9,10.2,9.4,8.45,7.5,6.7,6.0,5.55,5.4,5.55,6.0,6.7,7.5,8.45,9.4,10.2,10.9,11.35,11.5];
const fig3H2=[8.7,8.5,8.1,7.4,6.45,5.45,4.45,3.5,2.8,2.35,2.2,2.35,2.8,3.5,4.45,5.45,6.45,7.4,8.1,8.5,8.7];
const fig3YTicks=[0,5,10,15,20];
const fig3XTicks=[0,0.5,1.0];
const fig3XTickLabels=['0.0','0.5','1.0'];
const fig3Legend=['(0k0)','(h00)'];

// ---------------- Fig 4 data ----------------
const fig4EData=[1.1,1.3,1.5,1.7,1.9,2.1,2.3,2.5,2.7,2.9,3.1,3.3,3.5,3.7,3.9,4.1,4.3,4.5,4.7,4.9,5.1,5.3,5.5,5.7,5.9,6.1,6.3,6.5,6.7,6.9];
const fig4aData=[9,13,17,21,25,31,34,36,33,28,22,18,15,14,14,15,15,16,17,19,21,22,21,18,15,12,11,10,9,8];
const fig4bData=[6,8,11,13,15,17,19,20,21,19,15,12,10,10,10,10,11,11,12,13,14,14,13,11,10,9,8,8,7,7];
const fig4ECalc=[1.0,1.3,1.6,1.9,2.1,2.3,2.5,2.8,3.1,3.4,3.7,4.0,4.3,4.6,4.9,5.2,5.4,5.6,6.0,6.5,7.0];
const fig4aCalc=[1,3,10,22,29,29,25,20,18,18,18,17,17,18,20,23,24,21,17,14,11];
const fig4bCalc=[1,2,6,11,14,13,12,10,10,9,9,9,9,10,11,13,13,11,9,8,6];
const fig4cQData=[0.35,0.42,0.5,0.58,0.65,0.72,0.78,0.85,0.9,0.95,1.0,1.05,1.12,1.2,1.3,1.4,1.5,1.6,1.7,1.75,1.8,1.9,2.0,2.1,2.2,2.3,2.4,2.5,2.6,2.7];
const fig4cData=[5,6,7,9,15,30,38,41,38,34,30,27,23,19,18,16,15,18,22,24,25,23,19,17,16,15,15,15,15,15];
const fig4cQCalc=[0.25,0.5,0.6,0.65,0.7,0.75,0.8,0.85,0.9,1.0,1.1,1.2,1.3,1.4,1.45,1.5,1.6,1.7,1.8,1.9,1.95,2.0,2.1,2.2,2.3,2.4,2.5,2.6,2.7];
const fig4cCalc=[0,0,2,8,25,40,46,38,30,21,17,14,12,12,14,13,14,16,18,21,22,18,14,12,11,10,10,9,11];
const fig4dQData=[0.55,0.6,0.65,0.7,0.75,0.8,0.85,0.9,0.95,1.0,1.1,1.2,1.3,1.4,1.5,1.6,1.7,1.8,1.9,2.0,2.1,2.2,2.3,2.4,2.5,2.6,2.7];
const fig4dData=[13,15,18,20,19,19,18,17,17,16,15,13,12,12,12,11,12,12,12,11,10,9,9,9,9,10,10];
const fig4dQCalc=[0.55,0.6,0.65,0.7,0.75,0.8,0.85,0.9,0.95,1.0,1.1,1.2,1.3,1.4,1.5,1.55,1.6,1.7,1.8,1.9,2.0,2.05,2.1,2.2,2.3,2.4,2.5,2.6,2.7];
const fig4dCalc=[8,18,27,26,24,24,27,22,18,16,14,13,13,13,14,16,13,12,13,14,14,15,12,10,9,9,9,9,10];
const fig4EYTicks=[0,20,40];
const fig4EXTicks=[2,4,6];
const fig4QXTicks=[0,1,2];

// ---------------- Fig 5 data ----------------
const fig5J3=[0.1,0.3,0.5,0.7,0.9,1.1,1.3,1.5,1.7,1.9,2.1,2.3,2.5,2.7,2.9,3.1,3.3];
const fig5D=[0,0.3,0.6,0.9,1.2,1.5,1.8,2.1,2.4,2.7,3.0,3.3,3.6,3.9];
const fig5Phases=[
 "CSUSSSSSSSSSSSPPP",
 "CUUUUSSSSSSSSSPPP",
 "CUUUUUUSSSSSSSPPP",
 "CUUUUUUUUSSSSSPPP",
 "CUUUUUUUUUUSSSPPP",
 "CUUUUUUUUUUUSSPPP",
 "CUUUUUUUUUUUUUPPP",
 "CUUUUUUUUUUUUUUUP",
 "CUUUUUUUUUUUUUUUU",
 "CUUUUUUUUUUUUUUUU",
 "CUUUUUUUUUUUUUUUU",
 "CUUUUUUUUUUUUUUUU",
 "CUUUUUUUUUUUUUUUU",
 "CUUUUUUUUUUUUUUUU"];
const fig5Star=[1.95,1.4];
const fig5StarErr=[0.36,0.27];
const fig5XTicks=[0,1,2,3];
const fig5YTicks=[0,1,2,3,4];
const fig5LegendLabels=['Néel','120°','Spiral','Stripe'];

// ---------------- Fig 2 data ----------------
const mapQMax=[4.54,3.0,2.11,3.0,3.0,3.0];
const mapEMax=[31.3,13.4,6.45,13.4,13.4,13.4];
const mapQTicks=[[0,1,2,3,4],[0,1,2,3],[0,1,2],[0,1,2,3],[0,1,2,3],[0,1,2,3]];
const mapETicks=[[0,5,10,15,20,25,30],[0,2,4,6,8,10,12],[0,1,2,3,4,5,6],[2,4,6,8,10,12],[0,2,4,6,8,10,12],[0,2,4,6,8,10,12]];
const mapCbTicks=[[0,20,40,60],[0,10,20,30,40],[0,10,20,30,40],[0,10,20,30,40],[0,10,20,30,40],[0,1,2,3]];
const mapCbMax=[63,43,43,43,43,3.6];
const mapWedgeQ=[[0.37,2.8,3.77,4.42],[0.28,1.78,2.43,2.86],[0.2,1.15,1.76,2.05],[0.28,1.78,2.43,2.86],[0.28,1.78,2.43,2.86],[0.28,1.78,2.43,2.86]];
const mapElastic=[2.2,1.0,0.65,0.9,1.0,0];
const mapFeaturesA=[[0.85,3.3,0.22,1.4,1.0],[0.8,5.5,0.35,1.6,0.7],[1.9,3.2,0.3,0.9,0.6],[2.0,5.5,1.9,2.5,0.45],[2.2,10,2.0,3,0.28]];
const mapFeaturesB=[[0.85,2.5,0.18,0.55,0.95],[1.5,2.5,1.3,0.5,0.42],[1.8,2.4,0.15,0.4,0.5],[1.3,5.3,1.0,0.5,0.33],[0.55,5.5,0.2,0.6,0.38]];
const mapFeaturesC=[[0.85,2.7,0.15,0.5,0.9],[1.2,2.4,0.8,0.6,0.42],[1.1,1.0,0.95,0.35,0.5],[1.0,4.0,0.7,1.2,0.32]];
const mapFeaturesD=[[1.5,1.8,1.4,1.2,0.33],[0.35,1.1,0.1,0.4,0.8]];
const mapFeaturesE=[[0.85,2.0,0.25,1.0,0.62],[1.8,1.3,0.2,0.5,0.55],[1.5,2.5,1.3,1.5,0.34]];
const mapFeaturesF=[[1.7,5.3,1.1,0.25,0.36],[1.6,2.2,1.2,0.3,0.32],[0.8,2.2,0.12,0.4,0.95],[1.9,2.2,0.15,0.3,0.55],[0.7,5.3,0.08,0.3,0.6]];
const mapFeatures=[mapFeaturesA,mapFeaturesB,mapFeaturesC,mapFeaturesD,mapFeaturesE,mapFeaturesF];
const mapLetters=['(a)','(b)','(c)','(d)','(e)','(f)'];
const mapEi=['35','15','7.5','15','15',''];
const mapTemp=['2','2','2','250','15',''];

// ---------------- helpers ----------------
const NS='http://www.w3.org/2000/svg';
const svg=document.getElementById('figs');
const defs=document.getElementById('defs');
function mk(tag,at,parent){const e=document.createElementNS(NS,tag);for(const k in at)e.setAttribute(k,at[k]);(parent||svg).appendChild(e);return e;}
function tx(x,y,s,at,parent){const e=mk('text',Object.assign({x:x,y:y,'font-family':'Liberation Serif, serif'},at),parent);e.innerHTML=s;return e;}
const SUB=(s)=>'<tspan baseline-shift="sub" font-size="70%">'+s+'</tspan>';
const SUP=(s)=>'<tspan baseline-shift="super" font-size="70%">'+s+'</tspan>';
const BNTO='Ba'+SUB('2')+'NiTeO'+SUB('6');
function smoothPath(pts){let d='M'+pts[0][0].toFixed(1)+','+pts[0][1].toFixed(1);
 for(let i=0;i<pts.length-1;i++){const p0=pts[i-1]||pts[i],p1=pts[i],p2=pts[i+1],p3=pts[i+2]||p2;
 const c1=[p1[0]+(p2[0]-p0[0])/6,p1[1]+(p2[1]-p0[1])/6],c2=[p2[0]-(p3[0]-p1[0])/6,p2[1]-(p3[1]-p1[1])/6];
 d+=' C'+c1[0].toFixed(1)+','+c1[1].toFixed(1)+' '+c2[0].toFixed(1)+','+c2[1].toFixed(1)+' '+p2[0].toFixed(1)+','+p2[1].toFixed(1);}return d;}
function jet(t){const st=[[0,[0,0,0]],[0.12,[20,10,100]],[0.28,[20,40,220]],[0.42,[0,150,255]],[0.55,[0,230,200]],[0.65,[40,230,40]],[0.75,[255,255,0]],[0.87,[255,130,0]],[1,[255,0,0]]];
 t=Math.max(0,Math.min(1,t));for(let i=0;i<st.length-1;i++){if(t<=st[i+1][0]){const f=(t-st[i][0])/(st[i+1][0]-st[i][0]);const a=st[i][1],b=st[i+1][1];
 return 'rgb('+Math.round(a[0]+(b[0]-a[0])*f)+','+Math.round(a[1]+(b[1]-a[1])*f)+','+Math.round(a[2]+(b[2]-a[2])*f)+')';}}return 'rgb(255,0,0)';}
function ticks(g,x0,y0,x1,y1,xs,ys,sx,sy){
 xs.forEach(v=>{const t=mk('line',{x1:sx(v),y1:y0,x2:sx(v),y2:y0-4,stroke:'#222','stroke-width':0.8},g);
  const t2=mk('line',{x1:sx(v),y1:y1,x2:sx(v),y2:y1+4,stroke:'#222','stroke-width':0.8},g);});
 ys.forEach(v=>{const t=mk('line',{x1:x0,y1:sy(v),x2:x0+4,y2:sy(v),stroke:'#222','stroke-width':0.8},g);
  const t2=mk('line',{x1:x1,y1:sy(v),x2:x1-4,y2:sy(v),stroke:'#222','stroke-width':0.8},g);});
}

// ---------------- Fig 2: intensity maps ----------------
(function(){
 const boxes=[[2060,90,2257,266],[2060,311,2257,488],[2060,533,2257,710],[2363,90,2558,266],[2363,311,2558,488],[2363,533,2558,710]];
 // colorbar gradient
 const cg=mk('linearGradient',{id:'jetg',x1:0,y1:1,x2:0,y2:0},defs);
 for(let i=0;i<=10;i++){mk('stop',{offset:i/10,'stop-color':jet(i/10)},cg);}
 const bgA=mk('linearGradient',{id:'bgmap',x1:0,y1:0,x2:0,y2:1},defs);
 mk('stop',{offset:0,'stop-color':'#17125e'},bgA);mk('stop',{offset:0.5,'stop-color':'#1d22a8'},bgA);mk('stop',{offset:0.85,'stop-color':'#2448d8'},bgA);mk('stop',{offset:1,'stop-color':'#2a70ee'},bgA);
 const bgF=mk('linearGradient',{id:'bgmapf',x1:0,y1:0,x2:1,y2:1},defs);
 mk('stop',{offset:0,'stop-color':'#1c1c88'},bgF);mk('stop',{offset:0.55,'stop-color':'#14146a'},bgF);mk('stop',{offset:1,'stop-color':'#020210'},bgF);
 for(let p=0;p<6;p++){
  const [x0,y1,x1,y0]=boxes[p];
  const qMax=mapQMax[p],eMax=mapEMax[p];
  const sx=q=>x0+q/qMax*(x1-x0), sy=e=>y0-e/eMax*(y0-y1);
  const g=mk('g',{});
  
  
  const w=mapWedgeQ[p];
  const cq=w[0]+0.15*(w[1]-w[0]);
  const d='M'+sx(w[0])+','+sy(0)+' Q'+sx(cq)+','+sy(0.6*eMax)+' '+sx(w[1])+','+sy(eMax)+' L'+sx(w[2])+','+sy(eMax)+' L'+sx(w[3])+','+sy(0)+' Z';
  const cp=mk('clipPath',{id:'wedge'+p},defs);mk('path',{d:d},cp);
  const cl=mk('g',{'clip-path':'url(#wedge'+p+')'},g);
  const bg=mk('rect',{x:x0,y:y1,width:x1-x0,height:y0-y1,fill:p===5?'url(#bgmapf)':'url(#bgmap)'},cl);
  
  
  mapFeatures[p].forEach((f,k)=>{
   const rg=mk('radialGradient',{id:'rg'+p+'_'+k},defs);
   mk('stop',{offset:0,'stop-color':jet(0.3+0.7*f[4]),'stop-opacity':1},rg);
   mk('stop',{offset:0.55,'stop-color':jet(0.3+0.45*f[4]),'stop-opacity':0.7},rg);
   mk('stop',{offset:1,'stop-color':jet(0.3),'stop-opacity':0},rg);
   const el=mk('ellipse',{cx:sx(f[0]),cy:sy(f[1]),rx:f[2]/qMax*(x1-x0),ry:f[3]/eMax*(y0-y1),fill:'url(#rg'+p+'_'+k+')'},cl);
   
   
  });
  if(mapElastic[p]>0){
   const el=mk('rect',{x:x0,y:sy(mapElastic[p]),width:x1-x0,height:sy(0)-sy(mapElastic[p]),fill:'#f00'},cl);
   
   
   const edge=mk('rect',{x:x0,y:sy(mapElastic[p])-2.5,width:x1-x0,height:2.5,fill:'#f5e000',opacity:0.75},cl);
   
   
  }
  if(p===0){const b=mk('ellipse',{cx:sx(0.85),cy:sy(2.2),rx:12,ry:9,fill:'#f00'},cl);}
  const fr=mk('rect',{x:x0,y:y1,width:x1-x0,height:y0-y1,fill:'none',stroke:'#444','stroke-width':0.9},g);
  
  
  ticks(g,x0,y0,x1,y1,mapQTicks[p],mapETicks[p],sx,sy);
  mapQTicks[p].forEach(v=>{const t=tx(sx(v),y0+11,String(v),{'font-size':10.5,'font-weight':'bold','text-anchor':'middle'},g);});
  mapETicks[p].forEach(v=>{const t=tx(x0-4,sy(v)+3.5,String(v),{'font-size':10.5,'font-weight':'bold','text-anchor':'end'},g);});
  const xl=tx((x0+x1)/2,y0+24,'<tspan font-style="italic">Q</tspan> (Å'+SUP('-1')+')',{'font-size':11,'font-weight':'bold','text-anchor':'middle'},g);
  
  
  const yl=tx(0,0,'<tspan font-style="italic">ħω</tspan> (meV)',{'font-size':11,'font-weight':'bold','text-anchor':'middle',transform:'translate('+(x0-25)+','+((y0+y1)/2)+') rotate(-90)'},g);
  
  
  const lines=[mapLetters[p],BNTO];
  if(mapEi[p])lines.push('<tspan font-style="italic">E</tspan>'+SUB('i')+' = '+mapEi[p]+' meV');
  if(mapTemp[p])lines.push('<tspan font-style="italic">T</tspan> = '+mapTemp[p]+' K');
  lines.forEach((s,k)=>{const t=tx(x0+5,y1+10+k*12.5,s,{'font-size':10.5,'font-weight':'bold',fill:p===5&&k>0?'#fff':'#111'},g);});
  // colorbar
  const cbx=x1+7,cbw=16;
  const cb=mk('rect',{x:cbx,y:y1,width:cbw,height:y0-y1,fill:'url(#jetg)',stroke:'#444','stroke-width':0.6},g);
  
  
  mapCbTicks[p].forEach(v=>{const yy=y0-v/mapCbMax[p]*(y0-y1);
   const t=tx(cbx+cbw+5,yy+3.5,String(v),{'font-size':10.5,'font-weight':'bold'},g);});
  const il=tx(0,0,'Intensity (arb. units)',{'font-size':10.5,'font-weight':'bold','text-anchor':'middle',transform:'translate('+(cbx+cbw+31)+','+((y0+y1)/2)+') rotate(-90)'},g);
  
  
 }
})();

// ---------------- Fig 3: dispersion ----------------
(function(){
 const x0=2961,x1=3167,y0=287,y1=82,yMax=21.8;
 const sx=v=>x0+v*(x1-x0), sy=v=>y0-v/yMax*(y0-y1);
 const g=mk('g',{});
 
 
 const fr=mk('rect',{x:x0,y:y1,width:x1-x0,height:y0-y1,fill:'none',stroke:'#333','stroke-width':0.9},g);
 
 
 ticks(g,x0,y0,x1,y1,fig3XTicks,fig3YTicks,sx,sy);
 fig3XTicks.forEach((v,i)=>{const t=tx(sx(v),y0+14,fig3XTickLabels[i],{'font-size':12,'font-weight':'bold','text-anchor':'middle'},g);});
 fig3YTicks.forEach(v=>{const t=tx(x0-7,sy(v)+4,String(v),{'font-size':12,'font-weight':'bold','text-anchor':'end'},g);});
 const xl=tx((x0+x1)/2,y0+32,'r. l. u.',{'font-size':12,'font-weight':'bold','text-anchor':'middle'},g);
 
 
 const yl=tx(0,0,'Energy (meV)',{'font-size':12,'font-weight':'bold','text-anchor':'middle',transform:'translate('+(x0-27)+','+((y0+y1)/2)+') rotate(-90)'},g);
 
 
 const series=[[fig3K1,'#111','dispersion-0k0-upper'],[fig3K2,'#111','dispersion-0k0-lower'],[fig3H1,'#d01010','dispersion-h00-upper'],[fig3H2,'#d01010','dispersion-h00-lower']];
 series.forEach(s=>{const pts=fig3Q.map((q,i)=>[sx(q),sy(s[0][i])]);
  const pa=mk('path',{d:smoothPath(pts),fill:'none',stroke:s[1],'stroke-width':1.1},g);
  
  });
 [[fig3Legend[0],'#111',92],[fig3Legend[1],'#d01010',109]].forEach((l,i)=>{
  const ln=mk('line',{x1:3093,y1:l[2],x2:3124,y2:l[2],stroke:l[1],'stroke-width':1.1},g);
  
  
  const lab=l[0].replace(/([hk])/,'<tspan font-style="italic">$1</tspan>');
  const t=tx(3128,l[2]+4,lab,{'font-size':12,'font-weight':'bold'},g);
  
  });
})();

// ---------------- Fig 4: 1D cuts ----------------
(function(){
 const panels=[
  {x0:2916,x1:3044,y1:445,y0:573,xmin:1,xmax:7,ymax:45,xd:fig4EData,yd:fig4aData,xc:fig4ECalc,yc:fig4aCalc,xt:fig4EXTicks,lbl:'(a)',info:'<tspan font-style="italic">Q</tspan> = 0.75 Å'+SUP('-1'),name:'fig4a'},
  {x0:2916,x1:3044,y1:573,y0:702,xmin:1,xmax:7,ymax:45,xd:fig4EData,yd:fig4bData,xc:fig4ECalc,yc:fig4bCalc,xt:fig4EXTicks,lbl:'(b)',info:'<tspan font-style="italic">Q</tspan> = 2.05 Å'+SUP('-1'),name:'fig4b',bot:true,comp:true},
  {x0:3090,x1:3218,y1:445,y0:574,xmin:0,xmax:2.7,ymax:50,xd:fig4cQData,yd:fig4cData,xc:fig4cQCalc,yc:fig4cCalc,xt:fig4QXTicks,lbl:'(c)',info:'<tspan font-style="italic">ħω</tspan> = 2.5 meV',name:'fig4c'},
  {x0:3090,x1:3218,y1:574,y0:702,xmin:0,xmax:2.7,ymax:50,xd:fig4dQData,yd:fig4dData,xc:fig4dQCalc,yc:fig4dCalc,xt:fig4QXTicks,lbl:'(d)',info:'<tspan font-style="italic">ħω</tspan> = 5.0 meV',name:'fig4d',bot:true,comp:true}];
 panels.forEach(P=>{
  const sx=v=>P.x0+(v-P.xmin)/(P.xmax-P.xmin)*(P.x1-P.x0), sy=v=>P.y0-v/P.ymax*(P.y0-P.y1);
  const g=mk('g',{});
  
  
  const fr=mk('rect',{x:P.x0,y:P.y1,width:P.x1-P.x0,height:P.y0-P.y1,fill:'none',stroke:'#444','stroke-width':0.9},g);
  
  
  ticks(g,P.x0,P.y0,P.x1,P.y1,P.xt,fig4EYTicks,sx,sy);
  fig4EYTicks.forEach(v=>{const t=tx(P.x0-5,sy(v)+4,String(v),{'font-size':11.5,'font-weight':'bold','text-anchor':'end'},g);});
  if(P.bot){P.xt.forEach(v=>{const t=tx(sx(v),P.y0+14,String(v),{'font-size':11.5,'font-weight':'bold','text-anchor':'middle'},g);});}
  const cpath=mk('path',{d:smoothPath(P.xc.map((x,i)=>[sx(x),sy(P.yc[i])])),fill:'none',stroke:'#d81010','stroke-width':1.2},g);
  
  
  P.xd.forEach((x,i)=>{const r=mk('rect',{x:sx(x)-2.2,y:sy(P.yd[i])-2.2,width:4.4,height:4.4,fill:'#111'},g);
   
   });
  const l1=tx(P.x0+6,P.y1+14,P.lbl,{'font-size':11.5,'font-weight':'bold'},g);
  
  
  const l2=tx(P.x1-3,P.y1+14,P.info,{'font-size':11.5,'font-weight':'bold','text-anchor':'end'},g);
  
  
  if(P.comp){const l3=tx(P.x1-3,P.y0-5,BNTO,{'font-size':11,'font-weight':'bold','text-anchor':'end'},g);}
 });
 const a=tx(0,0,'Intensity (arb. unit)',{'font-size':11.5,'font-weight':'bold','text-anchor':'middle',transform:'translate(2888,574) rotate(-90)'});
 
 
 const b=tx(0,0,'Intensity (arb. unit)',{'font-size':11.5,'font-weight':'bold','text-anchor':'middle',transform:'translate(3064,574) rotate(-90)'});
 
 
 const c=tx(2980,732,'<tspan font-style="italic">ħω</tspan> (meV)',{'font-size':12,'font-weight':'bold','text-anchor':'middle'});
 
 
 const d=tx(3154,732,'<tspan font-style="italic">Q</tspan> (Å'+SUP('-1')+')',{'font-size':12,'font-weight':'bold','text-anchor':'middle'});
 
 
})();

// ---------------- honeycomb sketch ----------------
function honeycomb(x0,y0,r,mode,name){
 const g=mk('g',{});
 
 
 const w=Math.sqrt(3)*r;
 const centers=[[x0+w/2,y0+r],[x0+1.5*w,y0+r],[x0+w,y0+2.5*r],[x0+2*w,y0+2.5*r]];
 const verts={};
 centers.forEach(c=>{const pts=[];for(let k=0;k<6;k++){const a=(-90+60*k)*Math.PI/180;const v=[c[0]+r*Math.cos(a),c[1]+r*Math.sin(a)];pts.push(v);verts[Math.round(v[0])+','+Math.round(v[1])]=[v[0],v[1],k%2];}
  const pg=mk('polygon',{points:pts.map(p=>p.join(',')).join(' '),fill:'none',stroke:'#222','stroke-width':0.9},g);
  
  });
 Object.values(verts).forEach(v=>{
  let s=v[2];
  if(mode==='stripe'){s=(v[2]+Math.floor((v[0]-x0)/(w*0.99)))%2;}
  const c=mk('circle',{cx:v[0],cy:v[1],r:r*0.27,fill:'#fff',stroke:'#222','stroke-width':0.9},g);
  
  
  const t=tx(v[0],v[1]+r*0.16,s?'+':'−',{'font-size':r*0.5,'font-weight':'bold','text-anchor':'middle','font-family':'DejaVu Sans, sans-serif'},g);
  
  });
}

// ---------------- Fig 5: phase diagram ----------------
(function(){
 const x0=3302,x1=3539,y0=398,y1=199;
 const sx=v=>x0+v*70, sy=v=>393-v*48.2;
 const g=mk('g',{});
 
 
 const fr=mk('rect',{x:x0,y:y1,width:x1-x0,height:y0-y1,fill:'none',stroke:'#555','stroke-width':1.4},g);
 
 
 ticks(g,x0,y0,x1,y1,fig5XTicks,fig5YTicks,sx,sy);
 fig5XTicks.forEach(v=>{const t=tx(sx(v),y0+15,String(v),{'font-size':12,'font-weight':'bold','text-anchor':'middle'},g);});
 fig5YTicks.forEach(v=>{const t=tx(x0-7,sy(v)+4,String(v),{'font-size':12,'font-weight':'bold','text-anchor':'end'},g);});
 const xl=tx(3441,428,'<tspan font-style="italic">J</tspan>'+SUB('3')+' / <tspan font-style="italic">J</tspan>'+SUB('1'),{'font-size':12.5,'font-weight':'bold','text-anchor':'middle'},g);
 
 
 const yl=tx(0,0,'<tspan font-style="italic">D</tspan> / <tspan font-style="italic">J</tspan>'+SUB('1'),{'font-size':12.5,'font-weight':'bold','text-anchor':'middle',transform:'translate(3283,300) rotate(-90)'},g);
 
 
 function marker(code,x,y,parent){let m;
  if(code==='C')m=mk('circle',{cx:x,cy:y,r:3.6,fill:'#1530d8'},parent);
  else if(code==='P')m=mk('rect',{x:x-3.3,y:y-3.3,width:6.6,height:6.6,fill:'#8a2be2'},parent);
  else if(code==='U')m=mk('polygon',{points:(x)+','+(y-4.2)+' '+(x-4.2)+','+(y+3.2)+' '+(x+4.2)+','+(y+3.2),fill:'#e01515'},parent);
  else m=mk('polygon',{points:(x)+','+(y+3.6)+' '+(x-3.6)+','+(y-2.8)+' '+(x+3.6)+','+(y-2.8),fill:'#fff',stroke:'#111','stroke-width':0.9},parent);
  return m;}
 fig5D.forEach((d,ri)=>{fig5J3.forEach((j,ci)=>{const code=fig5Phases[ri][ci];
  const m=marker(code,sx(j),sy(d),g);
  
  });});
 // star with error bars
 const stx=sx(fig5Star[0]),sty=sy(fig5Star[1]);
 const eb1=mk('line',{x1:sx(fig5Star[0]-fig5StarErr[0]),y1:sty,x2:sx(fig5Star[0]+fig5StarErr[0]),y2:sty,stroke:'#111','stroke-width':1.2},g);
 
 
 const eb2=mk('line',{x1:stx,y1:sy(fig5Star[1]-fig5StarErr[1]),x2:stx,y2:sy(fig5Star[1]+fig5StarErr[1]),stroke:'#111','stroke-width':1.2},g);
 
 
 let sp='';for(let k=0;k<10;k++){const rr=k%2?4:10;const a=(-90+36*k)*Math.PI/180;sp+=(stx+rr*Math.cos(a)).toFixed(1)+','+(sty+rr*Math.sin(a)).toFixed(1)+' ';}
 const star=mk('polygon',{points:sp,fill:'#fff',stroke:'#111','stroke-width':1.6},g);
 
 
 // legend
 const lt=tx(3548,307,BNTO,{'font-size':12,'font-weight':'bold'},g);
 
 
 ['C','P','S','U'].forEach((c,i)=>{const yy=324+i*21.5;
  const m=marker(c,3552,yy,g);
  
  
  const t=tx(3568,yy+4.5,'<tspan font-style="italic">q</tspan>'+SUB(String(i+1))+': '+fig5LegendLabels[i],{'font-size':12,'font-weight':'bold'},g);
  
  });
 // sketches + arrows
 honeycomb(3320,84,20.5,'neel','q1-neel-sketch');
 honeycomb(3451,84,20.5,'stripe','q4-stripe-sketch');
 mk('marker',{id:'arrowhead',markerWidth:8,markerHeight:8,refX:6,refY:4,orient:'auto'},defs).appendChild((()=>{const p=document.createElementNS(NS,'path');p.setAttribute('d','M0,0 L8,4 L0,8 Z');p.setAttribute('fill','#111');return p;})());
 const a1=mk('line',{x1:3332,y1:167,x2:3310,y2:212,stroke:'#111','stroke-width':1.4,'marker-end':'url(#arrowhead)'});
 
 
 const a2=mk('line',{x1:3462,y1:167,x2:3440,y2:212,stroke:'#111','stroke-width':1.4,'marker-end':'url(#arrowhead)'});
 
 
})();

// ---------------- Fig 1: crystal structure ----------------
(function(){
 const g=mk('g',{});
 
 
 const la=tx(532,397,'(a)',{'font-size':14,'font-weight':'bold'},g);
 
 
 const lb=tx(532,746,'(b)',{'font-size':14,'font-weight':'bold'},g);
 
 
 // unit cell box
 const cols=[523,553,580,610,637,665];
 cols.forEach((x,i)=>{const top=i%2?413:420,bot=i%2?688:695;
  const l=mk('line',{x1:x,y1:top,x2:x,y2:bot,stroke:'#888','stroke-width':0.8},g);
  
  });
 [[523,420,637,420],[553,413,665,413],[523,420,553,413],[580,420,610,413],[637,420,665,413],[523,695,637,695],[553,688,665,688],[523,695,553,688],[580,695,610,688],[637,695,665,688]].forEach(s=>{
  const l=mk('line',{x1:s[0],y1:s[1],x2:s[2],y2:s[3],stroke:'#888','stroke-width':0.8},g);
  
  });
 // J2 vertical bonds (blue)
 [[553,440,553,490],[610,440,610,490],[523,532,523,582],[665,525,665,577],[580,619,580,671],[637,619,637,671],[553,525,553,577],[610,525,610,577],[580,532,580,582],[637,532,637,582]].forEach(s=>{
  const l=mk('line',{x1:s[0],y1:s[1],x2:s[2],y2:s[3],stroke:'#5050c8','stroke-width':1},g);
  
  });
 // J1 red zigzags
 [[[523,532],[553,490],[580,532],[610,490],[637,532],[665,525]],[[553,577],[580,619],[610,577],[637,619],[665,577]]].forEach(z=>{
  const pl=mk('polyline',{points:z.map(p=>p.join(',')).join(' '),fill:'none',stroke:'#d03030','stroke-width':1.2},g);
  
  });
 // J3 dashed
 [[553,440,610,440],[553,490,610,490],[523,532,665,525],[523,582,665,577],[580,619,637,619],[580,671,637,671],[553,525,637,532],[553,577,637,582]].forEach(s=>{
  const l=mk('line',{x1:s[0],y1:s[1],x2:s[2],y2:s[3],stroke:'#333','stroke-width':0.9,'stroke-dasharray':'3,2'},g);
  
  });
 const spins=[[553,440,1],[610,440,-1],[553,490,1],[610,490,-1],[523,532,-1],[553,525,1],[580,532,1],[610,525,-1],[637,532,-1],[665,525,-1],[523,582,-1],[553,577,1],[580,582,1],[610,577,-1],[637,582,-1],[665,577,-1],[580,619,1],[637,619,-1],[580,671,1],[637,671,-1]];
 spins.forEach(s=>{
  const ar=mk('line',{x1:s[0],y1:s[1]+s[2]*9,x2:s[0],y2:s[1]-s[2]*9,stroke:'#111','stroke-width':3.2},g);
  
  
  const c=mk('circle',{cx:s[0],cy:s[1],r:4,fill:'#4a6ad8'},g);
  
  });
 const j2=tx(534,454,'<tspan font-style="italic">J</tspan>'+SUB('2'),{'font-size':13,'font-weight':'bold',fill:'#4848c8'},g);
 
 
 const j3=tx(562,481,'<tspan font-style="italic">J</tspan>'+SUB('3'),{'font-size':13,'font-weight':'bold',fill:'#111'},g);
 
 
 const j1=tx(528,497,'<tspan font-style="italic">J</tspan>'+SUB('1'),{'font-size':13,'font-weight':'bold',fill:'#d03030'},g);
 
 
 // axes
 const ax1=mk('line',{x1:707,y1:686,x2:707,y2:657,stroke:'#1010d0','stroke-width':2.2},g);
 const ax2=mk('line',{x1:707,y1:686,x2:738,y2:686,stroke:'#20b020','stroke-width':2.2},g);
 const ax3=mk('line',{x1:707,y1:686,x2:695,y2:690,stroke:'#d01010','stroke-width':3},g);
 [['c',704,648],['b',745,691],['a',682,695]].forEach(a=>{const t=tx(a[1],a[2],a[0],{'font-size':14,'font-weight':'bold','font-style':'italic'},g);});
 // inset
 const ib=mk('rect',{x:689,y:389,width:120,height:231,rx:14,fill:'none',stroke:'#111','stroke-width':1.2},g);
 
 
 honeycomb(700,400,9.5,'stripe','inset-stripe-sketch');
 honeycomb(700,515,9.5,'neel','inset-neel-sketch');
 const st=tx(749,496,'Stripe',{'font-size':12.5,'font-weight':'bold','text-anchor':'middle'},g);
 const ne=tx(749,613,'Néel',{'font-size':12.5,'font-weight':'bold','text-anchor':'middle'},g);
 // (b) lattice
 const rows=[[738,[577,633,689]],[753,[605,661,717]],[787,[605,661,717]],[803,[633,689,745]],[835,[633,689,745]],[851,[661,717,773]]];
 const dashes=[[577,738,689,738],[605,753,717,753],[605,787,717,787],[633,803,745,803],[633,835,745,835],[661,851,773,851],[577,738,661,851],[633,738,717,851],[689,738,773,851],[689,738,633,803],[717,753,633,851],[633,738,605,787],[689,738,605,851],[717,787,661,851]];
 dashes.forEach(s=>{const l=mk('line',{x1:s[0],y1:s[1],x2:s[2],y2:s[3],stroke:'#444','stroke-width':0.7,'stroke-dasharray':'3,2'},g);});
 const red=[];
 for(let r=0;r<5;r++){const a=rows[r],b=rows[r+1];
  if(r%2===0){a[1].forEach((x,i)=>{red.push([x,a[0],b[1][i],b[0]]);if(i>0)red.push([x,a[0],b[1][i-1],b[0]]);});}
  else{a[1].forEach((x,i)=>{red.push([x,a[0],x,b[0]]);});}}
 red.forEach(s=>{const l=mk('line',{x1:s[0],y1:s[1],x2:s[2],y2:s[3],stroke:'#d83030','stroke-width':1.6},g);});
 rows.forEach(r=>r[1].forEach(x=>{const c=mk('circle',{cx:x,cy:r[0],r:4.5,fill:'#4a6ad8'},g);}));
 const bj1=tx(707,738,'<tspan font-style="italic">J</tspan>'+SUB('1'),{'font-size':13,'font-weight':'bold',fill:'#d83030'},g);
 const bj3=tx(735,782,'<tspan font-style="italic">J</tspan>'+SUB('3'),{'font-size':13,'font-weight':'bold',fill:'#111'},g);
 const lx1=mk('line',{x1:576,y1:848,x2:598,y2:848,stroke:'#d01010','stroke-width':1.8},g);
 const lx2=mk('line',{x1:576,y1:848,x2:566,y2:834,stroke:'#20b020','stroke-width':1.8},g);
 [['a',604,852],['b',560,830],['c',565,864]].forEach(a=>{const t=tx(a[1],a[2],a[0],{'font-size':13,'font-weight':'bold','font-style':'italic'},g);});
})();
</script>
</body></html>
